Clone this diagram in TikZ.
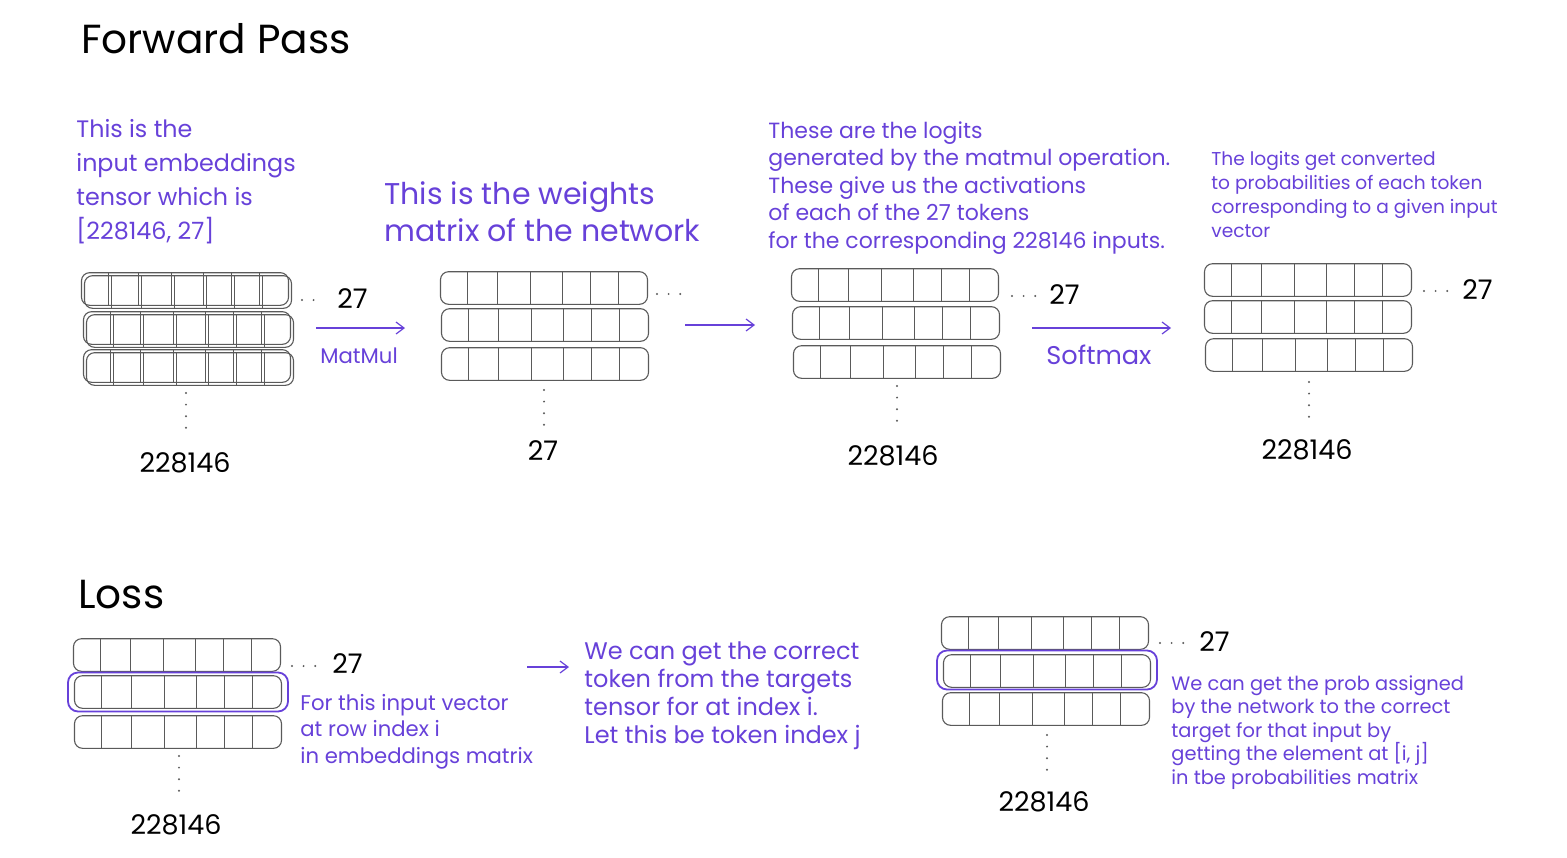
\documentclass[tikz,border=0pt]{standalone}
\usepackage{fontspec}
\setmainfont{Poppins}
\usetikzlibrary{calc,arrows.meta}
\definecolor{vio}{HTML}{6741D9}
\definecolor{gridgray}{HTML}{5A5A5A}
\tikzset{
  x=0.5pt, y=-0.5pt,
  rowbox/.style={draw=gridgray, line width=0.55pt, rounded corners=4pt, inner sep=0pt,
    minimum width=103.5pt, minimum height=16.3pt,
    path picture={
      \foreach \f in {0.13,0.275,0.435,0.59,0.725,0.86}
        \draw[gridgray, line width=0.55pt] ($(path picture bounding box.south west)!\f!(path picture bounding box.south east)$) -- ($(path picture bounding box.north west)!\f!(path picture bounding box.north east)$);
    }},
  hilite/.style={draw=vio, line width=0.9pt, rounded corners=5pt, inner sep=0pt, minimum width=110pt, minimum height=19.5pt},
  dotsline/.style={gridgray, line width=1.1pt, line cap=round, dash pattern=on 0pt off 5.8pt},
  vlbl/.style={text=vio, align=left, anchor=north west, inner sep=0pt},
  num/.style={text=black, inner sep=0pt, font=\fontsize{13.5}{15}\selectfont},
  arr/.style={vio, line width=0.6pt, -{Straight Barb[length=4pt,width=6pt]}},
}
\begin{document}
\begin{tikzpicture}
\useasboundingbox (0,0) rectangle (1567,857);
% titles
\node[anchor=west, inner sep=0pt, font=\fontsize{20.3}{22}\selectfont] (t1) at (81,39) {Forward Pass};
\node[anchor=west, inner sep=0pt, font=\fontsize{20.3}{22}\selectfont] (t2) at (78,595) {Loss};

% text blocks
\node[vlbl, font=\fontsize{11.9}{17}\selectfont] (d1) at (76,119) {This is the\\input embeddings\\tensor which is\\{[}228146, 27{]}};
\node[vlbl, font=\fontsize{15}{18.5}\selectfont] (d2) at (384,181) {This is the weights\\matrix of the network};
\node[vlbl, font=\fontsize{11}{13.75}\selectfont] (d3) at (768,121) {These are the logits\\generated by the matmul operation.\\These give us the activations\\of each of the 27 tokens\\for the corresponding 228146 inputs.};
\node[vlbl, font=\fontsize{9.3}{12}\selectfont] (d4) at (1211,151) {The logits get converted\\to probabilities of each token\\corresponding to a given input\\vector};

% matrix 1 (double outlines)
\node[rowbox] (m1a) at (185,289) {};
\node[rowbox] (m1a2) at (188,292) {};
\node[rowbox] (m1b) at (187,328) {};
\node[rowbox] (m1b2) at (190,331) {};
\node[rowbox] (m1c) at (187,366) {};
\node[rowbox] (m1c2) at (190,369) {};
% matrix 2
\node[rowbox] (m2a) at (544,288) {};
\node[rowbox] (m2b) at (545,325) {};
\node[rowbox] (m2c) at (545,364) {};
% matrix 3
\node[rowbox] (m3a) at (895,285) {};
\node[rowbox] (m3b) at (896,323) {};
\node[rowbox] (m3c) at (897,362) {};
% matrix 4
\node[rowbox] (m4a) at (1308,280) {};
\node[rowbox] (m4b) at (1308,317) {};
\node[rowbox] (m4c) at (1309,355) {};

% dots and dims, forward
\draw[dotsline] (302,300) -- (325,300);
\node[num, anchor=west] (n1r) at (337,299) {27};
\draw[dotsline] (186,393) -- (186,437);
\node[num] (n1b) at (185,463) {228146};

\draw[dotsline] (657,294) -- (681,294);
\draw[dotsline] (544,390) -- (544,426);
\node[num] (n2b) at (543,451) {27};

\draw[dotsline] (1012,296) -- (1036,296);
\node[num, anchor=west] (n3r) at (1049,295) {27};
\draw[dotsline] (897,386) -- (897,432);
\node[num] (n3b) at (893,456) {228146};

\draw[dotsline] (1424,291) -- (1449,291);
\node[num, anchor=west] (n4r) at (1462,290) {27};
\draw[dotsline] (1309,382) -- (1309,426);
\node[num] (n4b) at (1307,450) {228146};

% arrows
\coordinate (a1s) at (316,328); \coordinate (a1e) at (405,328);
\draw[arr] (a1s) -- (a1e);
\node[anchor=west, inner sep=0pt, text=vio, font=\fontsize{10.6}{12}\selectfont] (mm) at (320,356) {MatMul};
\coordinate (a2s) at (685,325); \coordinate (a2e) at (755,325);
\draw[arr] (a2s) -- (a2e);
\coordinate (a3s) at (1032,328); \coordinate (a3e) at (1171,328);
\draw[arr] (a3s) -- (a3e);
\node[anchor=west, inner sep=0pt, text=vio, font=\fontsize{12.8}{14}\selectfont] (sm) at (1046,355) {Softmax};

% Loss section
\node[rowbox] (l1a) at (177,655) {};
\node[rowbox] (l1b) at (178,692) {};
\node[rowbox] (l1c) at (178,732) {};
\node[hilite] (h1) at (178,692) {};
\draw[dotsline] (292,666) -- (317,666);
\node[num, anchor=west] (l1r) at (332,664) {27};
\draw[dotsline] (179,756) -- (179,800);
\node[num] (l1bn) at (176,825) {228146};
\node[vlbl, font=\fontsize{10.6}{13.2}\selectfont] (e1) at (300,694) {For this input vector\\at row index i\\in embeddings matrix};

\coordinate (a4s) at (527,667); \coordinate (a4e) at (569,667);
\draw[arr] (a4s) -- (a4e);
\node[vlbl, font=\fontsize{12}{14}\selectfont] (e2) at (584,641) {We can get the correct\\token from the targets\\tensor for at index i.\\Let this be token index j};

\node[rowbox] (l2a) at (1045,633) {};
\node[rowbox] (l2b) at (1047,671) {};
\node[rowbox] (l2c) at (1046,709) {};
\node[hilite] (h2) at (1047,670) {};
\draw[dotsline] (1160,643) -- (1186,643);
\node[num, anchor=west] (l2r) at (1199,642) {27};
\draw[dotsline] (1047,735) -- (1047,780);
\node[num] (l2bn) at (1044,802) {228146};
\node[vlbl, font=\fontsize{9.7}{11.8}\selectfont] (e3) at (1171,675) {We can get the prob assigned\\by the network to the correct\\target for that input by\\getting the element at [i, j]\\in tbe probabilities matrix};
\end{tikzpicture}
\end{document}
